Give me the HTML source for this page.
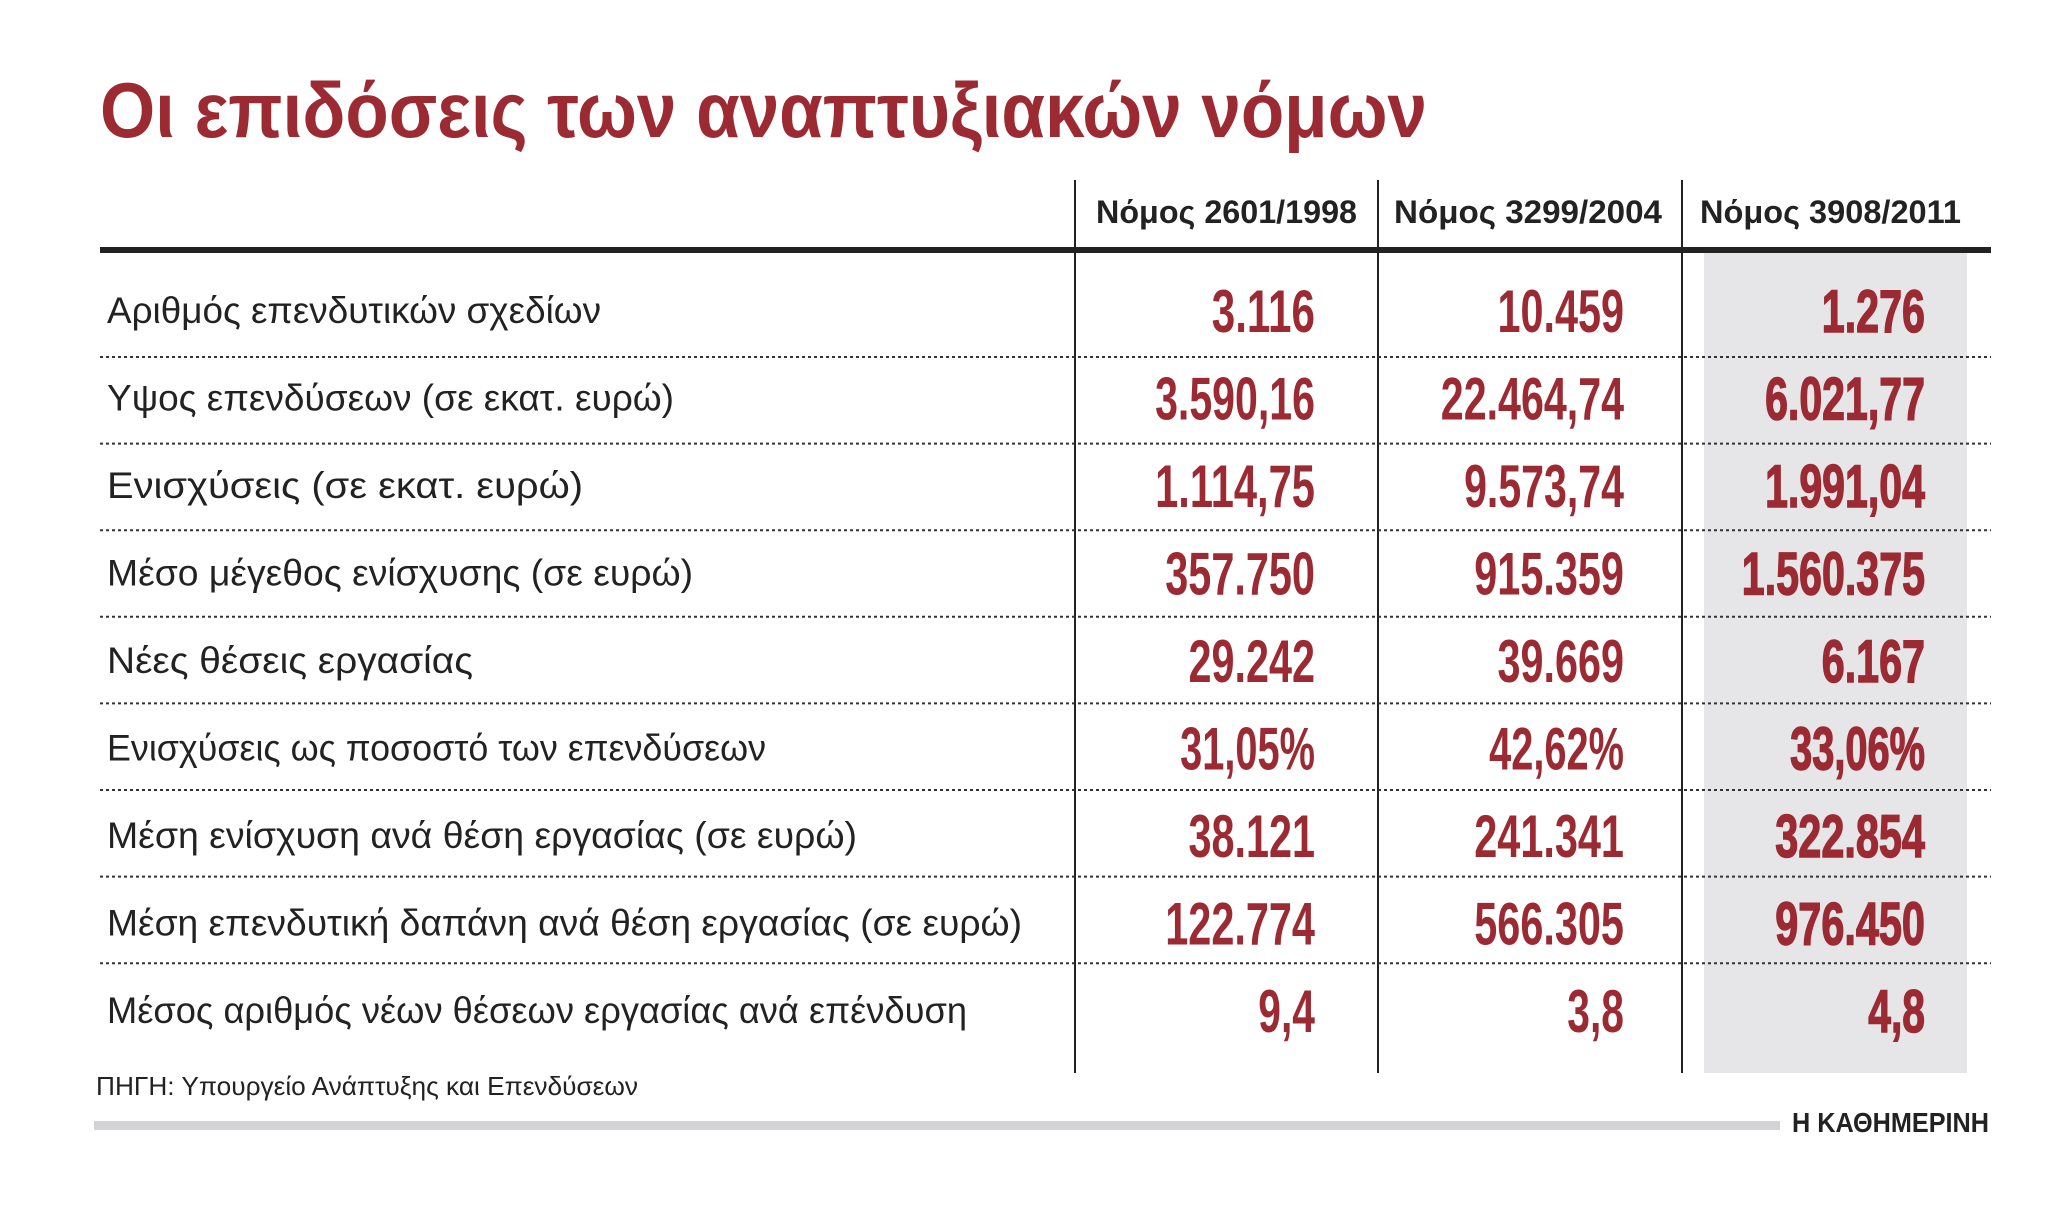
<!DOCTYPE html>
<html><head><meta charset="utf-8"><style>
html,body{margin:0;padding:0;background:#fff;}
svg{display:block;}
text{font-family:"Liberation Sans Narrow","Liberation Sans","DejaVu Sans",sans-serif;}
</style></head><body>
<svg id="c" width="2046" height="1213" viewBox="0 0 2046 1213" xmlns="http://www.w3.org/2000/svg">
<rect x="1704" y="252" width="263" height="821" fill="#e6e6e8"/>
<text x="100" y="137" font-size="78" font-weight="bold" fill="#9b2a33" textLength="1327" lengthAdjust="spacingAndGlyphs">Οι επιδόσεις των αναπτυξιακών νόμων</text>
<rect x="100" y="247" width="1891" height="6" fill="#222"/>
<g id="vlines"></g>
<g id="headers"></g>
<g id="rows"></g>
<text x="96" y="1095" font-size="26" fill="#222" textLength="542" lengthAdjust="spacingAndGlyphs">ΠΗΓΗ: Υπουργείο Ανάπτυξης και Επενδύσεων</text>
<rect x="94" y="1121" width="1686" height="9" fill="#d3d3d5"/>
<text x="1792" y="1132" font-size="28" font-weight="bold" fill="#222" font-family="Liberation Serif, serif" textLength="197" lengthAdjust="spacingAndGlyphs">Η ΚΑΘΗΜΕΡΙΝΗ</text>
</svg>
<script>
const columns = ["Νόμος 2601/1998", "Νόμος 3299/2004", "Νόμος 3908/2011"];
const labels = [
"Αριθμός επενδυτικών σχεδίων",
"Υψος επενδύσεων (σε εκατ. ευρώ)",
"Ενισχύσεις (σε εκατ. ευρώ)",
"Μέσο μέγεθος ενίσχυσης (σε ευρώ)",
"Νέες θέσεις εργασίας",
"Ενισχύσεις ως ποσοστό των επενδύσεων",
"Μέση ενίσχυση ανά θέση εργασίας (σε ευρώ)",
"Μέση επενδυτική δαπάνη ανά θέση εργασίας (σε ευρώ)",
"Μέσος αριθμός νέων θέσεων εργασίας ανά επένδυση"];
const law1998 = ["3.116","3.590,16","1.114,75","357.750","29.242","31,05%","38.121","122.774","9,4"];
const law2004 = ["10.459","22.464,74","9.573,74","915.359","39.669","42,62%","241.341","566.305","3,8"];
const law2011 = ["1.276","6.021,77","1.991,04","1.560.375","6.167","33,06%","322.854","976.450","4,8"];

const NS = "http://www.w3.org/2000/svg";
const colRight = [1315, 1624, 1925];
const colLines = [1075, 1378, 1682];
const headerX = [1096, 1394, 1700];
const headerW = [261, 268, 261];
const rowY0 = 332, rowStep = 87.5;
function mk(tag, attrs, parent){const e=document.createElementNS(NS,tag);for(const k in attrs)e.setAttribute(k,attrs[k]);parent.appendChild(e);return e;}
function valWidth(s){let w=0;for(const ch of s){if(/[0-9]/.test(ch))w+=0.456;else if(ch==='%')w+=0.62;else w+=0.2;}return w*60*0.85;}

const vl=document.getElementById('vlines');
colLines.forEach((x,i)=>{
 const l=mk('line',{x1:x,x2:x,y1:180,y2:1073,stroke:'#222','stroke-width':2},vl);
 
 
});
const hd=document.getElementById('headers');
columns.forEach((c,i)=>{
 const t=mk('text',{x:headerX[i],y:223,'font-size':32,'font-weight':'bold',fill:'#222',textLength:headerW[i],lengthAdjust:'spacingAndGlyphs'},hd);
 t.textContent=c;
 
 
});
const rg=document.getElementById('rows');
const series=[law1998,law2004,law2011];
labels.forEach((lab,r)=>{
 const y=rowY0+r*rowStep;
 const t=mk('text',{x:107,y:y-9,'font-size':37,fill:'#222',textLength:Math.round(lab.length*18.3),lengthAdjust:'spacingAndGlyphs'},rg);
 t.textContent=lab;
 
 
 series.forEach((s,ci)=>{
  const w=valWidth(s[r]);
  const attrs={x:colRight[ci]-w,y:y,'font-size':60,'font-weight':'bold',fill:'#9b2a33',textLength:w.toFixed(1),lengthAdjust:'spacingAndGlyphs'};
  if(ci===2){attrs.stroke='#9b2a33';attrs['stroke-width']=1.5;}
  const v=mk('text',attrs,rg);
  v.textContent=s[r];
  
  
 });
 if(r<labels.length-1){
  const ly=357+r*86.6;
  const d=mk('line',{x1:100,x2:1991,y1:ly,y2:ly,stroke:'#333','stroke-width':2,'stroke-dasharray':'3 3'},rg);
  
  
 }
});
</script>
</body></html>
